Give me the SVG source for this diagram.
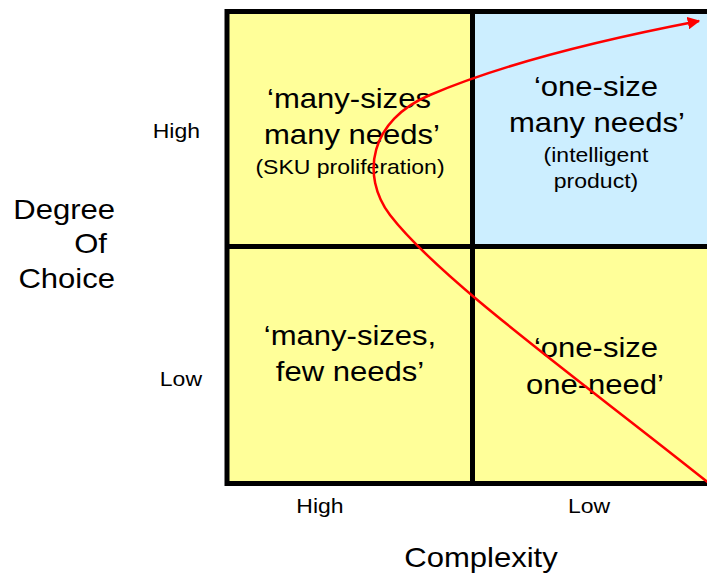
<svg xmlns="http://www.w3.org/2000/svg" width="707" height="573" viewBox="0 0 707 573">
<defs>
<style>
text{font-family:"Liberation Sans",Arial,sans-serif;fill:#000}
.big{font-size:27px}
.small{font-size:20px}
.lbl{font-size:20px}
.axis{font-size:27px}
.grid{fill:none;stroke:#000;stroke-width:5}
</style>
<marker id="ah" viewBox="0 0 10 10" refX="9" refY="5" markerWidth="5" markerHeight="5" markerUnits="strokeWidth" orient="auto">
<path d="M0,0 L10,5 L0,10 z" fill="#ff0000"/>
</marker>
</defs>
<rect width="707" height="573" fill="#fff"/>
<g id="q-many-many">
<rect x="227" y="11" width="245" height="236" fill="#ffff99"/>
<text class="big" text-anchor="middle" transform="translate(349,108) scale(1.15,1)">‘many-sizes</text>
<text class="big" text-anchor="middle" transform="translate(352,144) scale(1.15,1)">many needs’</text>
<text class="small" text-anchor="middle" transform="translate(350,174) scale(1.15,1)">(SKU proliferation)</text>
</g>
<g id="q-one-many">
<rect x="472" y="11" width="248" height="236" fill="#cceeff"/>
<text class="big" text-anchor="middle" transform="translate(596,96) scale(1.15,1)">‘one-size</text>
<text class="big" text-anchor="middle" transform="translate(597,132) scale(1.15,1)">many needs’</text>
<text class="small" text-anchor="middle" transform="translate(596,162) scale(1.15,1)">(intelligent</text>
<text class="small" text-anchor="middle" transform="translate(596,188) scale(1.15,1)">product)</text>
</g>
<g id="q-many-few">
<rect x="227" y="247" width="245" height="237" fill="#ffff99"/>
<text class="big" text-anchor="middle" transform="translate(350,345) scale(1.15,1)">‘many-sizes,</text>
<text class="big" text-anchor="middle" transform="translate(350,381) scale(1.15,1)">few needs’</text>
</g>
<g id="q-one-one">
<rect x="472" y="247" width="248" height="237" fill="#ffff99"/>
<text class="big" text-anchor="middle" transform="translate(596,357) scale(1.15,1)">‘one-size</text>
<text class="big" text-anchor="middle" transform="translate(595,394) scale(1.15,1)">one-need’</text>
</g>
<g id="grid">
<rect class="grid" x="227" y="11.5" width="500" height="472"/>
<line class="grid" x1="472.5" y1="11" x2="472.5" y2="484"/>
<line class="grid" x1="227" y1="246.5" x2="720" y2="246.5"/>
</g>
<g id="axis-labels">
<text class="lbl" text-anchor="end" transform="translate(200,138) scale(1.15,1)">High</text>
<text class="lbl" text-anchor="end" transform="translate(202,386) scale(1.15,1)">Low</text>
<text class="lbl" text-anchor="middle" transform="translate(320,513) scale(1.15,1)">High</text>
<text class="lbl" text-anchor="middle" transform="translate(589,513) scale(1.15,1)">Low</text>
<text class="axis" text-anchor="end" transform="translate(115,219) scale(1.15,1)">Degree</text>
<text class="axis" text-anchor="end" transform="translate(107,253) scale(1.15,1)">Of</text>
<text class="axis" text-anchor="end" transform="translate(115,288) scale(1.15,1)">Choice</text>
<text class="axis" text-anchor="middle" transform="translate(481,567) scale(1.15,1)">Complexity</text>
</g>
<g id="connectors">
<path d="M710,484 C580,380 440,280 390,215 C360,175 370,120 430,95 C500,65 600,40 699,21" fill="none" stroke="#ff0000" stroke-width="2.5" marker-end="url(#ah)"/>
</g>
</svg>
